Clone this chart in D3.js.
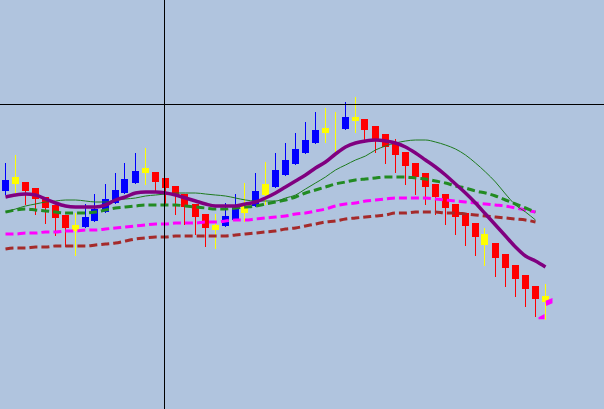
<!DOCTYPE html>
<html>
<head>
<meta charset="utf-8">
<script src="https://cdn.jsdelivr.net/npm/d3@7"></script>
<style>
  html, body { margin: 0; padding: 0; background: #B0C4DE; }
  svg { display: block; }
</style>
</head>
<body>
<svg id="chart" width="604" height="409"></svg>
<script>
// ---- Data (prices in points) ----
const openP  = [1309,1316,1318,1312,1303,1295,1285,1275,1273,1279,1288,1297,1307,1317,1327,1328,1322,1314,1306,1296,1286,1275,1274,1280,1287,1294,1305,1313,1325,1336,1347,1357,1367,1368,1371,1379,1381,1374,1366,1357,1348,1337,1327,1316,1306,1296,1287,1277,1266,1257,1246,1235,1225,1214,1204];
const highP  = [1337,1345,1318,1312,1303,1295,1285,1287,1296,1306,1316,1327,1337,1347,1352,1328,1322,1314,1306,1296,1286,1286,1297,1306,1317,1327,1338,1347,1357,1367,1378,1388,1392,1388,1398,1403,1381,1374,1366,1361,1348,1337,1327,1316,1306,1296,1287,1277,1272,1257,1246,1235,1225,1214,1216];
const lowP   = [1305,1307,1295,1285,1276,1264,1253,1244,1272,1278,1287,1296,1306,1316,1315,1307,1295,1285,1275,1265,1253,1251,1273,1279,1278,1293,1295,1312,1324,1335,1346,1356,1357,1345,1370,1367,1360,1347,1336,1327,1315,1305,1295,1285,1275,1265,1254,1244,1234,1223,1213,1203,1193,1183,1180];
const closeP = [1320,1323,1309,1301,1292,1282,1272,1269,1283,1291,1301,1310,1321,1329,1332,1318,1312,1304,1293,1283,1272,1270,1284,1292,1295,1309,1316,1330,1340,1351,1360,1370,1372,1368,1383,1383,1370,1361,1353,1345,1334,1323,1313,1303,1292,1283,1274,1263,1255,1242,1232,1221,1211,1201,1198];
// u = up bar, d = down bar, n = neutral / signal bar
const barKind = ["u","n","d","d","d","d","d","n","u","u","u","u","u","u","n","d","d","d","d","d","d","n","u","u","n","u","n","u","u","u","u","u","n","n","u","n","d","d","d","d","d","d","d","d","d","d","d","d","n","d","d","d","d","d","n"];

const maPurple = [1303,1305,1306,1305,1301,1297,1294,1293,1293,1293,1295,1300,1303,1307,1308,1308,1307,1305,1302,1299,1296,1294,1294,1294,1296,1298,1302,1307,1313,1319,1325,1332,1338,1346,1353,1357,1359,1360,1359,1357,1353,1347,1340,1333,1325,1316,1307,1297,1286,1275,1264,1253,1244,1239,1233];
const maGreenThin = [1288,1291,1294,1296,1298,1299,1300,1300,1299,1298,1298,1300,1301,1302,1304,1305,1306,1307,1307,1307,1306,1305,1304,1302,1300,1299,1299,1299,1302,1305,1311,1317,1323,1330,1335,1340,1344,1350,1354,1357,1359,1360,1360,1358,1355,1351,1345,1337,1328,1318,1306,1295,1288,1280];
const maGreenDash = [1288,1290,1291,1290,1289,1288,1287,1287,1287,1288,1290,1292,1293,1294,1295,1295,1295,1295,1294,1293,1292,1291,1291,1292,1293,1294,1296,1298,1300,1303,1307,1310,1313,1316,1318,1320,1321,1322,1323,1323,1323,1322,1321,1319,1317,1314,1312,1309,1307,1304,1300,1296,1292,1288];
const maMagenta = [1266,1266,1267,1267,1268,1268,1269,1269,1270,1270,1271,1272,1273,1274,1275,1276,1276,1277,1277,1277,1278,1278,1279,1280,1280,1281,1282,1283,1284,1286,1287,1289,1291,1294,1296,1297,1299,1300,1301,1302,1302,1302,1302,1301,1300,1299,1298,1297,1296,1295,1294,1292,1290,1288];
const maBrown = [1251,1252,1252,1253,1253,1254,1254,1254,1254,1255,1256,1257,1259,1261,1262,1263,1263,1264,1264,1264,1264,1264,1264,1265,1266,1267,1268,1269,1271,1272,1274,1276,1278,1279,1281,1282,1283,1284,1285,1287,1287,1288,1288,1288,1287,1287,1286,1285,1284,1283,1282,1281,1280,1278];

const crossIdx = 15.9;
const crossPrice = 1395.5;

const markerIdx = [54, 54];
const markerPrice = [1198, 1183];
const markerShape = ["right", "left"];

// ---- Scales ----
const W = 604, H = 409;
const x = d3.scaleLinear().domain([0, 54]).range([5.5, 545.5]);
const y = d3.scaleLinear().domain([1091, 1500]).range([H, 0]);

const svg = d3.select("#chart");
svg.append("rect").attr("width", W).attr("height", H).attr("fill", "#B0C4DE");

const kindColor = { u: "#0000FF", d: "#FF0000", n: "#FFFF00" };

const bars = openP.map((o, i) => ({ i, o, h: highP[i], l: lowP[i], c: closeP[i], k: barKind[i] }));

const gBars = svg.append("g").attr("shape-rendering", "crispEdges");
gBars.selectAll("rect.wick").data(bars).join("rect")
  .attr("class", "wick")
  .attr("x", d => Math.round(x(d.i)) - 1)
  .attr("width", 1)
  .attr("y", d => Math.round(y(d.h)))
  .attr("height", d => Math.round(y(d.l)) - Math.round(y(d.h)))
  .attr("fill", d => kindColor[d.k]);

gBars.selectAll("rect.body").data(bars).join("rect")
  .attr("class", "body")
  .attr("x", d => Math.round(x(d.i)) - 4)
  .attr("width", 7)
  .attr("y", d => Math.round(y(Math.max(d.o, d.c))))
  .attr("height", d => Math.round(Math.abs(y(d.o) - y(d.c))))
  .attr("fill", d => kindColor[d.k]);

// ---- Moving averages ----
const lineGen = d3.line().x((d, i) => x(i)).y(d => y(d)).curve(d3.curveMonotoneX);

function drawLine(data, color, width, dash) {
  const p = svg.append("path")
    .datum(data)
    .attr("d", lineGen)
    .attr("fill", "none")
    .attr("stroke", color)
    .attr("stroke-width", width)
    .attr("stroke-linejoin", "round");
  if (dash) p.attr("stroke-dasharray", dash);
}

drawLine(maBrown, "#A52A2A", 3, "8,4");
drawLine(maMagenta, "#FF00FF", 3, "8,4");
drawLine(maGreenDash, "#228B22", 3, "8,4");
drawLine(maGreenThin, "#1E7B1E", 1, null);
drawLine(maPurple, "#800080", 3.5, null);

// ---- Markers ----
const shapes = {
  right: [[0, -1.3], [7, -4], [7, 1.3], [0.7, 4]],
  left:  [[-7, 0.3], [-1, -3], [-1, 2.3], [-7, 2.3]]
};
markerIdx.forEach((mi, k) => {
  const cx = x(mi), cy = y(markerPrice[k]);
  svg.append("polygon")
    .attr("points", shapes[markerShape[k]].map(p => [cx + p[0], cy + p[1]].join(",")).join(" "))
    .attr("fill", "#FF00FF");
});

// ---- Crosshair ----
svg.append("line")
  .attr("x1", Math.floor(x(crossIdx)) + 0.5).attr("x2", Math.floor(x(crossIdx)) + 0.5)
  .attr("y1", 0).attr("y2", H)
  .attr("stroke", "#000").attr("stroke-width", 1)
  .attr("shape-rendering", "crispEdges");
svg.append("line")
  .attr("x1", 0).attr("x2", W)
  .attr("y1", Math.floor(y(crossPrice)) + 0.5).attr("y2", Math.floor(y(crossPrice)) + 0.5)
  .attr("stroke", "#000").attr("stroke-width", 1)
  .attr("shape-rendering", "crispEdges");
</script>
</body>
</html>
